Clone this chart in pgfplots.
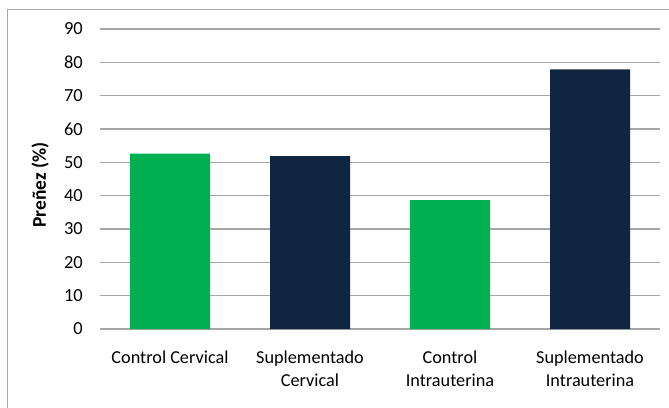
\documentclass[border=0pt]{standalone}
\usepackage{fontspec}
\setmainfont{Carlito}
\usepackage{pgfplots}
\pgfplotsset{compat=1.18}
\definecolor{barGreen}{HTML}{00B050}
\definecolor{barNavy}{HTML}{10253F}
\definecolor{gridGray}{HTML}{A6A6A6}
\definecolor{frameGray}{HTML}{A8A8A8}
\begin{document}
\begin{tikzpicture}[x=1bp,y=1bp]
\path[use as bounding box] (0,0) rectangle (669,407);
% chart area border (left and top edges)
\draw[frameGray, line width=1.5bp] (7.5,-5) -- (7.5,397.5) -- (680,397.5);
\begin{axis}[
  at={(100bp,78bp)}, anchor=south west,
  scale only axis, width=560bp, height=300bp,
  xmin=-0.5, xmax=3.5, ymin=0, ymax=90,
  xtick={0,1,2,3}, ytick={0,10,...,90},
  xticklabels={Control Cervical, Suplementado\\Cervical, Control\\Intrauterina, Suplementado\\Intrauterina},
  major tick length=0pt,
  axis line style={draw=none},
  ymajorgrids, grid style={gridGray, line width=1.5bp},
  /pgf/number format/assume math mode=true,
  xticklabel style={align=center, anchor=north, inner sep=0pt, yshift=-22bp,
    font=\fontsize{18.3}{23}\selectfont},
  yticklabel style={anchor=east, inner sep=0pt, xshift=-17bp,
    font=\fontsize{18.5}{21}\selectfont},
  every axis y label/.style={at={(axis description cs:-0.107,0.48)}, rotate=90, anchor=center,
    font=\fontsize{19.5}{22}\selectfont\bfseries},
  ylabel={Preñez (\%)},
  ybar, bar width=80bp,
]
\addplot[fill=barGreen, draw=none, bar shift=0pt] coordinates {(0,52.6) (2,38.7)};
\addplot[fill=barNavy, draw=none, bar shift=0pt] coordinates {(1,51.9) (3,77.9)};
\end{axis}
\end{tikzpicture}
\end{document}
